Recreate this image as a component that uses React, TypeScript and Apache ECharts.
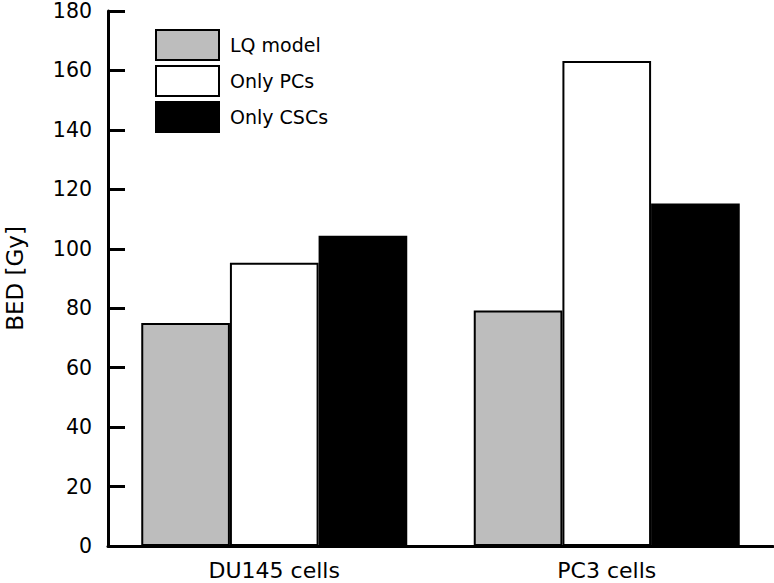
import React, { useEffect, useRef } from "react";
import * as echarts from "echarts";

const categories = ["DU145 cells", "PC3 cells"];
const seriesNames = ["LQ model", "Only PCs", "Only CSCs"];
const lqModel = [75, 79.2];
const onlyPCs = [95.3, 163.2];
const onlyCSCs = [104.4, 115.2];
const yTicks = [0, 20, 40, 60, 80, 100, 120, 140, 160, 180];

const FONT = "'DejaVu Sans', 'Liberation Sans', Arial, sans-serif";

export default function App() {
  const ref = useRef<HTMLDivElement>(null);
  useEffect(() => {
    if (!ref.current) return;
    const chart = echarts.init(ref.current, null, { renderer: "svg" });
    const fills = ["#bdbdbd", "#ffffff", "#000000"];
    const values = [lqModel, onlyPCs, onlyCSCs];
    chart.setOption({
      animation: false,
      backgroundColor: "#ffffff",
      textStyle: { fontFamily: FONT },
      grid: {
        left: 108,
        right: 1,
        top: 11,
        bottom: 37,
        containLabel: false,
        outerBoundsMode: "none",
      },
      legend: {
        orient: "vertical",
        left: 155,
        top: 29,
        itemWidth: 63,
        itemHeight: 30,
        itemGap: 4,
        icon: "rect",
        data: seriesNames,
        textStyle: { fontFamily: FONT, fontSize: 19, color: "#000", padding: [0, 0, 0, 6] },
        padding: 0,
      },
      xAxis: {
        type: "category",
        data: categories,
        axisLine: { onZero: false, lineStyle: { color: "#000", width: 3 } },
        axisTick: { show: false },
        axisLabel: { fontFamily: FONT, fontSize: 22, color: "#000", margin: 13 },
        splitLine: { show: false },
      },
      yAxis: {
        type: "value",
        min: 0,
        max: 180,
        interval: 20,
        name: "BED [Gy]",
        nameLocation: "middle",
        nameGap: 82,
        nameTextStyle: { fontFamily: FONT, fontSize: 23, color: "#000" },
        axisLine: { show: true, lineStyle: { color: "#000", width: 3 } },
        axisTick: { show: true, inside: true, length: 17, lineStyle: { color: "#000", width: 3 } },
        axisLabel: {
          fontFamily: FONT,
          fontSize: 20.5,
          color: "#000",
          margin: 16,
          formatter: (v: number) => (yTicks.includes(v) ? String(v) : ""),
        },
        splitLine: { show: false },
      },
      series: seriesNames.map((name, i) => ({
        name,
        type: "bar",
        data: values[i],
        barGap: "0%",
        barCategoryGap: "20%",
        itemStyle: { color: fills[i], borderColor: "#000", borderWidth: 2 },
      })),
    });
    return () => chart.dispose();
  }, []);
  return <div ref={ref} style={{ width: 774, height: 583, position: "absolute", left: 0, top: 0 }} />;
}
